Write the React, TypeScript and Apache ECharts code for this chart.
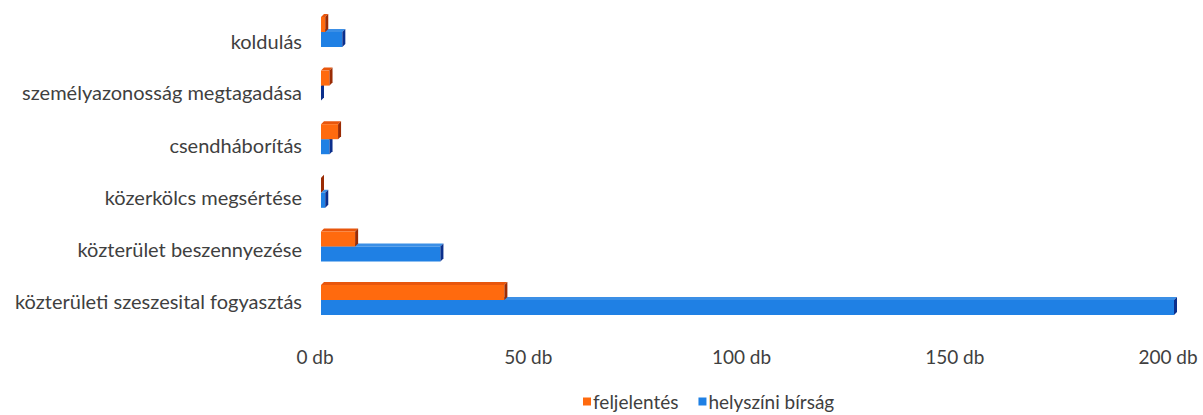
import React, { useEffect, useRef } from "react";
import * as echarts from "echarts";

const categories = [
  "koldulás",
  "személyazonosság megtagadása",
  "csendháborítás",
  "közerkölcs megsértése",
  "közterület beszennyezése",
  "közterületi szeszesital fogyasztás",
];
const feljelentes = [1, 2, 4, 0, 8, 43];
const helyszini = [5, 0, 2, 1, 28, 200];
const xTicks = [0, 50, 100, 150, 200];

// label nudges (px, downward) to mimic the perspective of the original 3D chart
const labelNudge = [9, 6.2, 5.9, 4.6, 2.8, 0.5];

const FONT = "Lato, 'Open Sans', sans-serif";
const TEXT = "#3f3f3f";

const faces = {
  orange: { front: "#ff6a0e", top: "#e8560c", side: "#9a2c05" },
  blue: { front: "#1f80e4", top: "#3b8fe6", side: "#0b2f8c" },
};

function make3D(colors: { front: string; top: string; side: string }, upper: boolean) {
  return (params: any, api: any) => {
    const cat = api.value(0);
    const val = api.value(1);
    const p0 = api.coord([0, cat]);
    const p1 = api.coord([val, cat]);
    const band = api.size([0, 1])[1];
    const h = band * 0.28;
    const d = 3;
    const x0 = p0[0];
    const x1 = p1[0];
    const yTop = upper ? p0[1] - h : p0[1];
    const children: any[] = [];
    if (x1 - x0 > 0) {
      children.push({
        type: "polygon",
        shape: { points: [[x0, yTop], [x0 + d, yTop - d], [x1 + d, yTop - d], [x1, yTop]] },
        style: { fill: colors.top },
      });
      children.push({
        type: "rect",
        shape: { x: x0, y: yTop, width: x1 - x0, height: h },
        style: { fill: colors.front },
      });
    }
    children.push({
      type: "polygon",
      shape: { points: [[x1, yTop], [x1 + d, yTop - d], [x1 + d, yTop + h - d], [x1, yTop + h]] },
      style: { fill: colors.side },
    });
    return { type: "group", children };
  };
}

export default function App() {
  const ref = useRef<HTMLDivElement>(null);
  useEffect(() => {
    if (!ref.current) return;
    const chart = echarts.init(ref.current, null, { renderer: "svg" });
    const rich: any = {};
    labelNudge.forEach((n, i) => {
      rich["r" + i] = {
        color: TEXT,
        fontFamily: FONT,
        fontSize: 20,
        padding: [n * 2, 0, 0, 0],
      };
    });
    chart.setOption({
      animation: false,
      backgroundColor: "#ffffff",
      grid: { left: 321, width: 853, top: 5.2, bottom: 88.2, containLabel: false },
      xAxis: {
        type: "value",
        min: xTicks[0],
        max: xTicks[xTicks.length - 1],
        interval: xTicks[1] - xTicks[0],
        splitLine: { show: false },
        axisLine: { show: false },
        axisTick: { show: false },
        axisLabel: {
          formatter: "{value} db",
          color: TEXT,
          fontFamily: FONT,
          fontSize: 19,
          margin: 20,
          padding: [0, 12, 0, 0],
        },
      },
      yAxis: {
        type: "category",
        data: categories,
        inverse: true,
        axisLine: { show: false },
        axisTick: { show: false },
        axisLabel: {
          color: TEXT,
          fontFamily: FONT,
          fontSize: 20,
          margin: 19,
          formatter: (v: string, i: number) => `{r${i}|${v}}`,
          rich,
        },
      },
      legend: {
        data: ["feljelentés", "helyszíni bírság"],
        left: 578,
        top: 387,
        icon: "rect",
        itemWidth: 8,
        itemHeight: 8,
        itemGap: 20,
        textStyle: { color: TEXT, fontFamily: FONT, fontSize: 19, padding: [0, 0, 0, -3] },
      },
      series: [
        {
          name: "helyszíni bírság",
          type: "custom",
          clip: false,
          itemStyle: { color: faces.blue.front },
          encode: { x: 1, y: 0 },
          renderItem: make3D(faces.blue, false),
          data: helyszini.map((v, i) => [i, v]),
        },
        {
          name: "feljelentés",
          type: "custom",
          clip: false,
          itemStyle: { color: faces.orange.front },
          encode: { x: 1, y: 0 },
          renderItem: make3D(faces.orange, true),
          data: feljelentes.map((v, i) => [i, v]),
        },
      ],
    });
    return () => chart.dispose();
  }, []);
  return <div ref={ref} style={{ width: 1203, height: 415, position: "absolute", left: 0, top: 0 }} />;
}
